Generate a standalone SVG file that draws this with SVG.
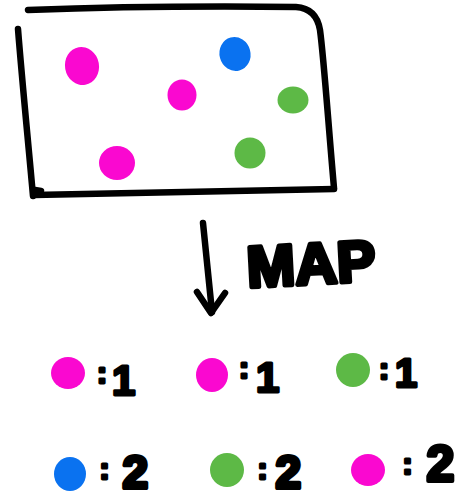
<svg xmlns="http://www.w3.org/2000/svg" width="471" height="497" viewBox="0 0 471 497">
<style>
.ink{fill:none;stroke:#000;stroke-width:6.5;stroke-linecap:round;stroke-linejoin:round}
.pink{fill:#FA08D0}
.blue{fill:#0A72F0}
.green{fill:#5DB946}
.t{font-family:"Liberation Sans",Arial,sans-serif;font-weight:bold;fill:#000;stroke:#000;stroke-width:3;stroke-linejoin:round;stroke-linecap:round}
.map{stroke-width:4.5;text-anchor:middle}
</style>
<rect width="471" height="497" fill="#fff"/>
<g id="box">
<path class="ink" d="M28 10 C110 7 200 6 296 7 C312 8 318 18 320 30 C324 60 328 120 334 188"/>
<path class="ink" d="M18 29 C22 80 28 140 33 196"/>
<path class="ink" d="M34 195 C120 193 230 191 334 189"/>
<path class="ink" d="M35 190 L41 191"/>
<ellipse class="pink" cx="82" cy="66" rx="17" ry="19" transform="rotate(-10 82 66)"/>
<ellipse class="blue" cx="235" cy="54" rx="15.5" ry="17" transform="rotate(-15 235 54)"/>
<ellipse class="pink" cx="182" cy="95" rx="14.5" ry="15.5"/>
<ellipse class="green" cx="293" cy="100" rx="15.5" ry="13.5"/>
<ellipse class="pink" cx="117" cy="163" rx="18" ry="17"/>
<ellipse class="green" cx="250" cy="153" rx="15.5" ry="15.5"/>
</g>
<g id="connectors">
<path class="ink" d="M203 223 C206 250 209 280 212 312"/>
<path class="ink" d="M197 292 L211 313 L225 293"/>
</g>
<g id="label-map">
<text class="t map" x="311" y="284" font-size="58" transform="rotate(-3 311 262)">MAP</text>
</g>
<g id="pair-1">
<ellipse class="pink" cx="68" cy="373" rx="17" ry="16"/>
<text class="t" x="97" y="383" font-size="30">:<tspan font-size="42" dx="5" dy="12">1</tspan></text>
</g>
<g id="pair-2">
<ellipse class="pink" cx="212" cy="375" rx="16" ry="17"/>
<text class="t" x="239" y="378" font-size="30">:<tspan font-size="42" dx="7" dy="14">1</tspan></text>
</g>
<g id="pair-3">
<ellipse class="green" cx="353" cy="370" rx="17" ry="17"/>
<text class="t" x="379" y="379" font-size="30">:<tspan font-size="40" dx="6" dy="8">1</tspan></text>
</g>
<g id="pair-4">
<ellipse class="blue" cx="70" cy="474" rx="16" ry="17"/>
<text class="t" x="99.5" y="479" font-size="30">:<tspan font-size="46" dx="13" dy="9" stroke-width="4">2</tspan></text>
</g>
<g id="pair-5">
<ellipse class="green" cx="227" cy="470" rx="17" ry="17"/>
<text class="t" x="257.5" y="479" font-size="30">:<tspan font-size="46" dx="8" dy="9" stroke-width="4">2</tspan></text>
</g>
<g id="pair-6">
<ellipse class="pink" cx="368" cy="470" rx="17" ry="16"/>
<text class="t" x="402.5" y="474" font-size="30">:<tspan font-size="50" dx="14" dy="7" stroke-width="4">2</tspan></text>
</g>
</svg>
